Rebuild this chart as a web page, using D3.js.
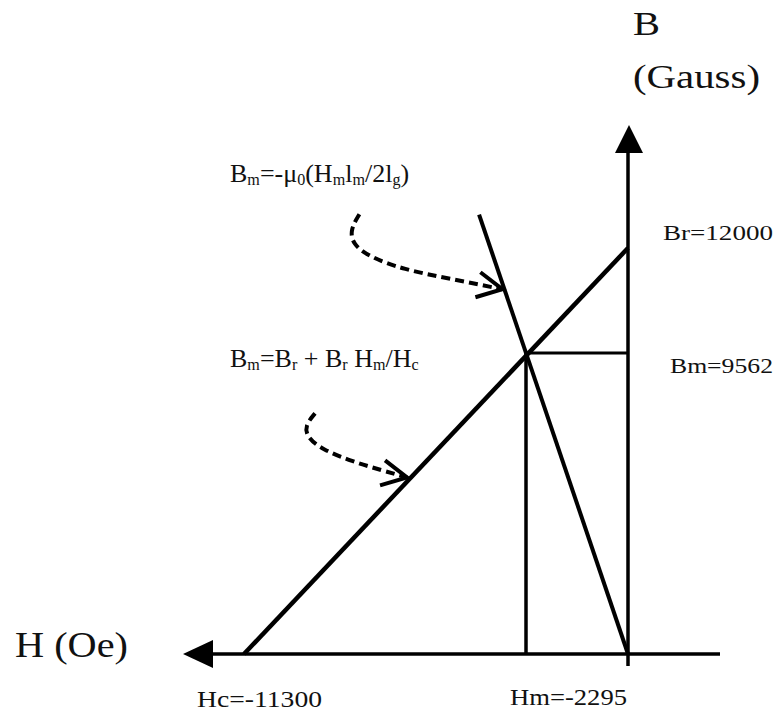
<!DOCTYPE html>
<html>
<head>
<meta charset="utf-8">
<script src="https://cdn.jsdelivr.net/npm/d3@7"></script>
<style>
  body { margin: 0; background: #fff; }
  svg { display: block; }
</style>
</head>
<body>
<div id="chart"></div>
<script>
// chart values
var hValues = [-11300, -2295, 0];          // Hc, Hm, origin
var bValues = [0, 9562, 12000];            // origin, Bm, Br
var hLabels = ['Hc=-11300', 'Hm=-2295'];
var bLabels = ['Bm=9562', 'Br=12000'];

var attrs = {
  svgWidth: 784,
  svgHeight: 714,
  fontFamily: '"Liberation Serif", "Times New Roman", serif',
  color: '#000'
};

var svg = d3.select('#chart')
  .append('svg')
  .attr('width', attrs.svgWidth)
  .attr('height', attrs.svgHeight)
  .attr('font-family', attrs.fontFamily);

// schematic (not to scale) positions, so piecewise scales
var x = d3.scaleLinear().domain(hValues).range([244, 526, 628]);
var y = d3.scaleLinear().domain(bValues).range([654, 353, 248]);

var x0 = x(0), y0 = y(0);
var hc = hValues[0], hm = hValues[1];
var bm = bValues[1], br = bValues[2];

/* ############# AXES ############### */

var axes = svg.append('g').attr('stroke', attrs.color).attr('stroke-width', 3.5);

// H axis (points left)
axes.append('line')
  .attr('x1', x(hc) - 40).attr('y1', y0)
  .attr('x2', x0 + 92).attr('y2', y0);
svg.append('path')
  .attr('d', d3.line()([[x(hc) - 61, y0], [x(hc) - 31, y0 - 14], [x(hc) - 31, y0 + 14]]) + 'Z')
  .attr('fill', attrs.color);

// B axis (points up)
axes.append('line')
  .attr('x1', x0).attr('y1', y0 + 12)
  .attr('x2', x0).attr('y2', y(br) - 95);
svg.append('path')
  .attr('d', d3.line()([[x0 + 1, y(br) - 123], [x0 - 13, y(br) - 95], [x0 + 15, y(br) - 95]]) + 'Z')
  .attr('fill', attrs.color);

/* ############# LINES ############### */

var lines = svg.append('g').attr('stroke', attrs.color).attr('fill', 'none');

// demagnetisation line Hc -> Br
lines.append('line')
  .attr('x1', x(hc)).attr('y1', y0)
  .attr('x2', x0).attr('y2', y(br))
  .attr('stroke-width', 4.5);

// operating point guides
lines.append('line')
  .attr('x1', x(hm)).attr('y1', y0)
  .attr('x2', x(hm)).attr('y2', y(bm))
  .attr('stroke-width', 3.5);
lines.append('line')
  .attr('x1', x(hm)).attr('y1', y(bm))
  .attr('x2', x0).attr('y2', y(bm))
  .attr('stroke-width', 3);

// load line through origin and operating point, extended
var ext = 1.46;
var loadTop = [x0 + (x(hm) - x0) * ext, y0 + (y(bm) - y0) * ext];
lines.append('line')
  .attr('x1', loadTop[0]).attr('y1', loadTop[1])
  .attr('x2', x0).attr('y2', y0)
  .attr('stroke-width', 4);

/* ############# ANNOTATION ARROWS ############### */

function pointOn(p, q, t) { return [p[0] + (q[0] - p[0]) * t, p[1] + (q[1] - p[1]) * t]; }

var tip1 = pointOn([x0, y0], loadTop, 0.83);
tip1[0] -= 2;
var tip2 = pointOn([x(hc), y0], [x0, y(br)], 0.435);
tip2[0] -= 4;

var curve = d3.line().curve(d3.curveBasis);

function dashedArrow(tip, offs) {
  var pts = offs.map(function (d) { return [tip[0] + d[0], tip[1] + d[1]]; });
  svg.append('path')
    .attr('d', curve(pts))
    .attr('fill', 'none')
    .attr('stroke', attrs.color)
    .attr('stroke-width', 4)
    .attr('stroke-dasharray', '9,5');
  svg.append('path')
    .attr('d', d3.line()([[tip[0] - 22, tip[1] - 17], tip, [tip[0] - 27, tip[1] + 8]]))
    .attr('fill', 'none')
    .attr('stroke', attrs.color)
    .attr('stroke-width', 4);
}

dashedArrow(tip1, [[-143, -75], [-152, -60], [-150, -45], [-132, -32], [-100, -20], [-50, -10], [0, 0]]);
dashedArrow(tip2, [[-92, -64], [-102, -52], [-100, -40], [-85, -28], [-55, -16], [-25, -7], [0, 0]]);

/* ############# TEXT ############### */

function label(str, px, py, size, len) {
  return svg.append('text')
    .attr('x', px).attr('y', py)
    .attr('font-size', size)
    .attr('fill', '#111')
    .attr('textLength', len)
    .attr('lengthAdjust', 'spacingAndGlyphs')
    .text(str);
}

label('B', x0 + 5, 35, 34, 27);
label('(Gauss)', x0 + 5, 88, 33, 127);
label('H (Oe)', 15, y0 + 3, 36, 113);

label(bLabels[1], x0 + 35, y(br) - 8, 22, 110);
label(bLabels[0], x0 + 42, y(bm) + 20, 22, 103);
label(hLabels[0], x(hc) - 47, y0 + 53, 24, 125);
label(hLabels[1], x(hm) - 16, y0 + 51, 24, 117);

// equations with subscripts
function equation(parts, px, py, size) {
  var t = svg.append('text')
    .attr('x', px).attr('y', py)
    .attr('font-size', size)
    .attr('fill', '#111');
  parts.forEach(function (p) {
    var sp = t.append('tspan').text(p[0]);
    if (p[1]) sp.attr('font-size', size * 0.62).attr('dy', size * 0.12);
    else sp.attr('dy', 0);
  });
  // restore baseline after each subscript
  t.selectAll('tspan').each(function (d, i, nodes) {
    if (i > 0 && parts[i - 1][1] && !parts[i][1]) d3.select(this).attr('dy', -size * 0.12);
    if (i > 0 && parts[i - 1][1] && parts[i][1]) d3.select(this).attr('dy', 0);
  });
  return t;
}

equation([['B'], ['m', 1], ['=-\u03bc'], ['0', 1], ['(H'], ['m', 1], ['l'], ['m', 1], ['/2l'], ['g', 1], [')']], 230, 182, 26);
equation([['B'], ['m', 1], ['=B'], ['r', 1], [' + B'], ['r', 1], [' H'], ['m', 1], ['/H'], ['c', 1]], 230, 367, 26);
</script>
</body>
</html>
